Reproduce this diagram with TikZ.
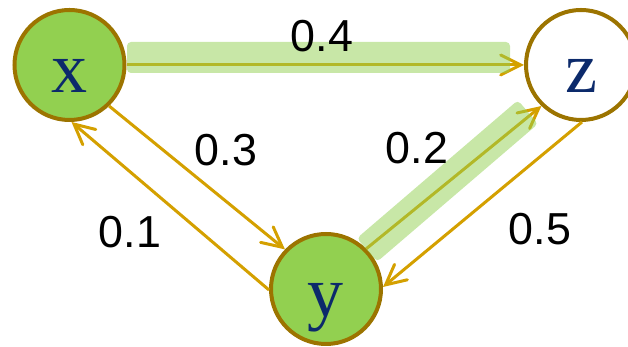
\documentclass[tikz,border=0pt]{standalone}
\usepackage{fontspec}
\setmainfont{Liberation Serif}
\setsansfont{Liberation Sans}
\usetikzlibrary{arrows.meta}
\definecolor{leafgreen}{HTML}{92D050}
\definecolor{rimbrown}{HTML}{9C7400}
\definecolor{edgegold}{HTML}{D4A000}
\definecolor{inkblue}{HTML}{0C2A6B}

\begin{document}
\begin{tikzpicture}[
  state/.style={circle,draw=rimbrown,line width=0.08cm,fill=leafgreen,minimum size=2.2cm,inner sep=0pt,
    text=inkblue,font=\fontsize{41}{41}\selectfont,text height=31pt,text depth=0pt},
  edge/.style={draw=edgegold,line width=0.06cm,-{Straight Barb[length=0.4cm,width=0.4cm,line cap=round]}},
  weight/.style={font=\sffamily\fontsize{25.5}{26}\selectfont},
  glow/.style={fill=leafgreen,fill opacity=0.5,rounded corners=0.08cm,inner sep=0pt,minimum height=0.62cm}]
\useasboundingbox (0,0) rectangle (12.56,6.94);
\clip (0,0) rectangle (12.56,6.94);
\node[state] (X) at (1.39,5.64) {x};
\node[state,fill=white] (Z) at (11.62,5.64) {z};
\node[state] (Y) at (6.52,1.16) {y};
\draw[edge] (X.0) -- (Z.180);
\draw[edge] (X.-46) -- (Y.136);
\draw[edge] (Y.181) -- (X.272);
\draw[edge] (Y.45) -- (Z.226);
\draw[edge] (Z.271) -- (Y.2);
\node[glow,minimum width=7.66cm] (G1) at (6.37,5.79) {};
\node[glow,minimum width=4.24cm,rotate=40.6] (G2) at (8.95,3.32) {};
\node[weight] (w04) at (6.44,6.22) {0.4};
\node[weight] (w03) at (4.52,3.94) {0.3};
\node[weight] (w02) at (8.34,3.98) {0.2};
\node[weight] (w01) at (2.60,2.30) {0.1};
\node[weight] (w05) at (10.80,2.36) {0.5};
\end{tikzpicture}
\end{document}
